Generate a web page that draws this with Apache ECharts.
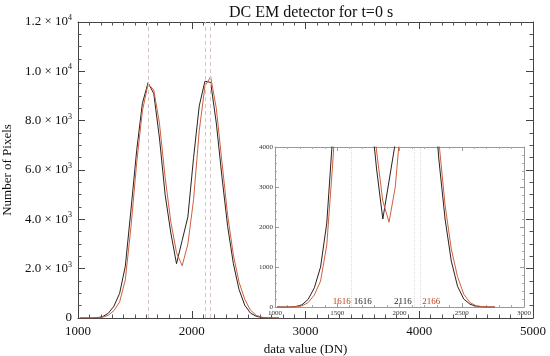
<!DOCTYPE html>
<html><head><meta charset="utf-8">
<script src="https://cdn.jsdelivr.net/npm/echarts@6/dist/echarts.min.js"></script>
<style>html,body{margin:0;padding:0;background:#fff}#c{width:550px;height:356px}</style>
</head><body><div id="c"></div>
<script>
// Histogram bin centres (DN)
const dnBins = [1016,1066,1116,1166,1216,1266,1316,1366,1416,1466,1516,1566,1616,1666,1716,1766,1816,1866,1916,1966,2016,2066,2116,2166,2216,2266,2316,2366,2416,2466,2516,2566,2616,2666,2716,2766];
// Number of pixels, dark curve
const countsBlack = [0,0,0,10,55,190,480,1000,2100,4400,6800,8700,9540,9100,7300,5000,3450,2200,3150,4100,6500,8600,9600,9550,7900,5700,3700,2200,1150,520,200,70,20,5,0,0];
// Number of pixels, red curve
const countsRed = [0,0,0,5,30,110,300,650,1550,3700,6300,8400,9480,9250,7900,5700,3900,2650,2120,3000,4800,7600,9400,9780,8500,6300,4150,2550,1450,760,320,110,30,8,0,0];
// Peak positions marked
const peaksBlack = [1616, 2116];
const peaksRed = [1616, 2166];
// Y tick labels
const yTickMant = ['0','2.0','4.0','6.0','8.0','1.0','1.2'];
const yTickExp  = ['','3','3','3','3','4','4'];

const serif = '"Liberation Serif", "Times New Roman", serif';
const BLACK = '#2a2020', RED = '#d0603c';
const pair = (xs, ys) => xs.map((x, i) => [x, ys[i]]);
const plain = v => String(v);

const chart = echarts.init(document.getElementById('c'), null, {renderer: 'canvas'});

const mainTick = {show: true, inside: true, length: 7, lineStyle: {color: '#444', width: 1}};
const mainMinor = n => ({show: true, splitNumber: n, length: 3.5, lineStyle: {color: '#555', width: 1}});
const insetTick = {show: true, inside: true, length: 4, lineStyle: {color: '#999', width: 1}};
const insetMinor = n => ({show: true, splitNumber: n, length: 2, lineStyle: {color: '#aaa', width: 1}});
const mainLine = {show: true, onZero: false, lineStyle: {color: '#444', width: 1}};
const insetLine = {show: true, onZero: false, lineStyle: {color: '#999', width: 1}};

function markLines(peaks, color, type) {
  return {silent: true, symbol: 'none', label: {show: false},
    lineStyle: {color: color, type: type, width: 1},
    data: peaks.map(p => ({xAxis: p}))};
}
function peakLabels(peaks, color, offsets) {
  return {silent: true, symbol: 'circle', symbolSize: 0,
    data: peaks.map((p, i) => ({coord: [p, 0], value: p,
      label: {show: true, position: 'inside', offset: offsets[i], formatter: String(p),
        color: color, fontFamily: serif, fontSize: 9}}))};
}

const option = {
  animation: false,
  backgroundColor: '#fff',
  title: {text: 'DC EM detector for t=0 s', left: 224, top: 0,
    textStyle: {fontFamily: serif, fontSize: 16, fontWeight: 'normal', color: '#111'}},
  grid: [
    {left: 78, top: 22, width: 455, height: 296, show: false, containLabel: false, outerBoundsMode: 'none'},
    {left: 275, top: 147, width: 249, height: 160, show: true, backgroundColor: '#fff', borderWidth: 0, z: 5,
      containLabel: false, outerBoundsMode: 'none'}
  ],
  xAxis: [
    {gridIndex: 0, type: 'value', min: 1000, max: 5000, interval: 1000, position: 'bottom',
      axisLine: mainLine, axisTick: mainTick, minorTick: mainMinor(10), splitLine: {show: false},
      axisLabel: {fontFamily: serif, fontSize: 13, color: '#111', margin: 7, formatter: plain},
      name: 'data value (DN)', nameLocation: 'middle', nameGap: 18,
      nameTextStyle: {fontFamily: serif, fontSize: 13, color: '#111'}},
    {gridIndex: 0, type: 'value', min: 1000, max: 5000, interval: 1000, position: 'top',
      axisLine: mainLine, axisTick: mainTick, minorTick: mainMinor(10), splitLine: {show: false},
      axisLabel: {show: false}},
    {gridIndex: 1, type: 'value', min: 1000, max: 3000, interval: 500, position: 'bottom', z: 6,
      axisLine: insetLine, axisTick: insetTick, minorTick: insetMinor(5), splitLine: {show: false},
      axisLabel: {fontFamily: serif, fontSize: 7, color: '#333', margin: 3, formatter: plain}},
    {gridIndex: 1, type: 'value', min: 1000, max: 3000, interval: 500, position: 'top', z: 6,
      axisLine: insetLine, axisTick: insetTick, minorTick: insetMinor(5), splitLine: {show: false},
      axisLabel: {show: false}}
  ],
  yAxis: [
    {gridIndex: 0, type: 'value', min: 0, max: 12000, interval: 2000, position: 'left',
      axisLine: mainLine, axisTick: mainTick, minorTick: mainMinor(4), splitLine: {show: false},
      axisLabel: {fontFamily: serif, fontSize: 13, color: '#111', margin: 6,
        formatter: v => {
          const i = Math.round(v / 2000);
          if (!yTickExp[i]) return yTickMant[i];
          return '{m|' + yTickMant[i] + ' × 10}{e|' + yTickExp[i] + '}';
        },
        rich: {
          m: {fontFamily: serif, fontSize: 13, color: '#111', lineHeight: 16},
          e: {fontFamily: serif, fontSize: 8, color: '#111', lineHeight: 16, verticalAlign: 'top'}
        }},
      name: 'Number of Pixels', nameLocation: 'middle', nameGap: 63,
      nameTextStyle: {fontFamily: serif, fontSize: 13, color: '#111'}},
    {gridIndex: 0, type: 'value', min: 0, max: 12000, interval: 2000, position: 'right',
      axisLine: mainLine, axisTick: mainTick, minorTick: mainMinor(4), splitLine: {show: false},
      axisLabel: {show: false}},
    {gridIndex: 1, type: 'value', min: 0, max: 4000, interval: 1000, position: 'left', z: 6,
      axisLine: insetLine, axisTick: insetTick, minorTick: insetMinor(5), splitLine: {show: false},
      axisLabel: {fontFamily: serif, fontSize: 7, color: '#333', margin: 2, formatter: plain}},
    {gridIndex: 1, type: 'value', min: 0, max: 4000, interval: 1000, position: 'right', z: 6,
      axisLine: insetLine, axisTick: insetTick, minorTick: insetMinor(5), splitLine: {show: false},
      axisLabel: {show: false}}
  ],
  series: [
    {type: 'line', xAxisIndex: 0, yAxisIndex: 0, data: pair(dnBins, countsBlack), showSymbol: false,
      lineStyle: {color: BLACK, width: 1}, itemStyle: {color: BLACK}, z: 3,
      markLine: markLines(peaksBlack, '#d9c4c4', [4, 3])},
    {type: 'line', xAxisIndex: 0, yAxisIndex: 0, data: pair(dnBins, countsRed), showSymbol: false,
      lineStyle: {color: RED, width: 1}, itemStyle: {color: RED}, z: 3,
      markLine: markLines(peaksRed.slice(1), '#d9c4c4', [4, 3])},
    {type: 'line', xAxisIndex: 2, yAxisIndex: 2, data: pair(dnBins, countsBlack), showSymbol: false,
      lineStyle: {color: BLACK, width: 1}, itemStyle: {color: BLACK}, z: 8, clip: true,
      markLine: markLines(peaksBlack, '#ddd', 'dotted'),
      markPoint: peakLabels(peaksBlack, '#222', [[11, -5], [-11, -5]])},
    {type: 'line', xAxisIndex: 2, yAxisIndex: 2, data: pair(dnBins, countsRed), showSymbol: false,
      lineStyle: {color: RED, width: 1}, itemStyle: {color: RED}, z: 8, clip: true,
      markLine: markLines(peaksRed.slice(1), '#ddd', 'dotted'),
      markPoint: peakLabels(peaksRed, '#b8401e', [[-10, -5], [11, -5]])}
  ]
};
chart.setOption(option);
</script>
</body></html>
